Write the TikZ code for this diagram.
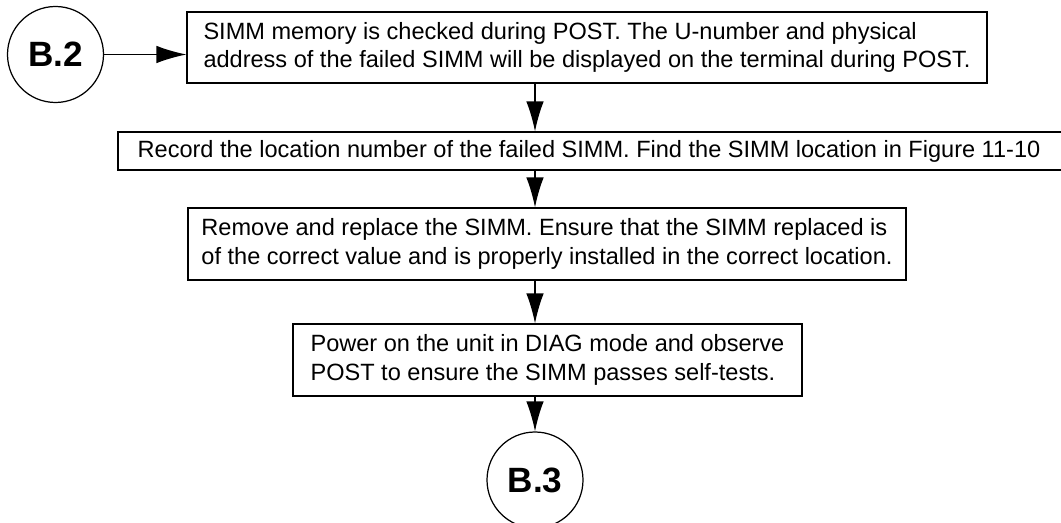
\documentclass[tikz,border=0pt]{standalone}
\usepackage{fontspec}
\setmainfont{Liberation Sans}
\usepackage{tikz}
\usetikzlibrary{shapes, positioning, arrows.meta}

\tikzset{
    stepbox/.style={draw, line width=0.6pt, rectangle, align=left, inner sep=0pt,
        font=\fontsize{13.4}{16.2}\selectfont},
    conn/.style={circle, draw, line width=0.7pt, minimum size=1.92cm, inner sep=0pt,
        font=\fontsize{20}{24}\selectfont\bfseries}
}

\begin{document}
\begin{tikzpicture}[>={Latex[length=0.6cm, width=0.35cm]}, line width=0.75pt]
        \clip (0, 0) rectangle (21.22, -10.46);

        \node[conn] (b2) at (1.11, -1.09) {B.2};
        \node[stepbox, minimum width=16.0cm, minimum height=1.42cm] (s1) at (11.74, -0.95)
            {SIMM memory is checked during POST. The U-number and physical\\
             address of the failed SIMM will be displayed on the terminal during POST.};
        \node[stepbox, minimum width=19.04cm, minimum height=0.76cm] (s2) at (11.88, -3.02)
            {Record the location number of the failed SIMM. Find the SIMM location in Figure 11-10\hspace{0.2cm}};
        \node[stepbox, minimum width=14.36cm, minimum height=1.44cm] (s3) at (10.94, -4.88)
            {Remove and replace the SIMM. Ensure that the SIMM replaced is\\
             of the correct value and is properly installed in the correct location.};
        \node[stepbox, minimum width=10.18cm, minimum height=1.44cm] (s4) at (10.95, -7.20)
            {Power on the unit in DIAG mode and observe\\
             POST to ensure the SIMM passes self-tests.};
        \node[conn] (b3) at (10.70, -9.60) {B.3};

        \draw[->] (b2.east) to (b2.east -| s1.west);
        \draw[->] (s1.south -| b3) to (s2.north -| b3);
        \draw[->] (s2.south -| b3) to (s3.north -| b3);
        \draw[->] (s3.south -| b3) to (s4.north -| b3);
        \draw[->] (s4.south -| b3) to (b3.north);
    \end{tikzpicture}
\end{document}
